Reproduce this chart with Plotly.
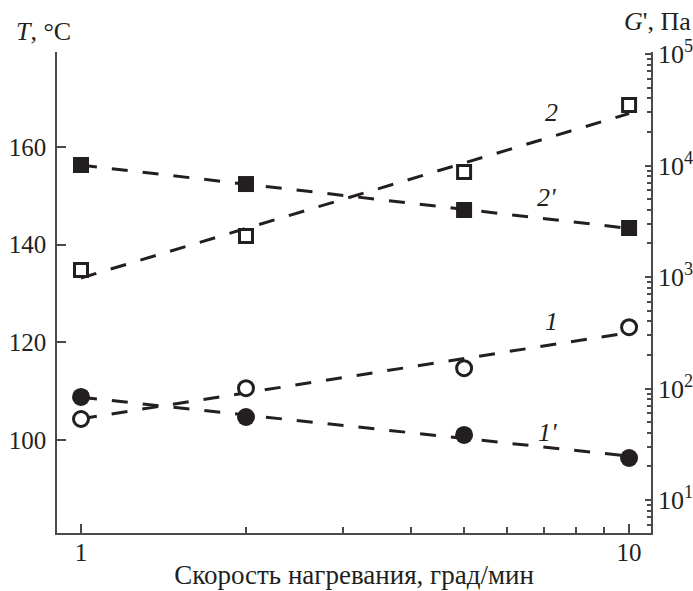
import numpy as np
import plotly.graph_objects as go

# Heating rate, deg/min
rate = [1, 2, 5, 10]

# Temperature, deg C (open symbols, left axis)
t_curve1 = [104.3, 110.6, 114.7, 123.1]
t_curve2 = [134.8, 141.8, 154.9, 168.6]

# Storage modulus G', Pa (filled symbols, right axis)
g_curve1 = [84.0, 55.5, 38.3, 23.8]
g_curve2 = [10100, 6820, 3990, 2750]

# Right-axis decade labels
g_tickvals = [10, 100, 1000, 10000, 100000]
g_ticktext = ["10<sup>1</sup>", "10<sup>2</sup>", "10<sup>3</sup>", "10<sup>4</sup>", "10<sup>5</sup>"]

INK = "#231f20"
AXIS = "#4a4a4a"
FONT = "Liberation Serif"
FS = 25

lx = np.log10(rate)
x_ends = np.array([1.0, 10.0])


def fit_linear(y):
    k, b = np.polyfit(lx, y, 1)
    return k * np.log10(x_ends) + b


def fit_log(y):
    k, b = np.polyfit(lx, np.log10(y), 1)
    return 10 ** (k * np.log10(x_ends) + b)


dash = dict(color=INK, width=3, dash="16px,15px")

fig = go.Figure()

# regression lines
fig.add_trace(go.Scatter(x=x_ends, y=fit_linear(t_curve1), mode="lines", line=dash, yaxis="y"))
fig.add_trace(go.Scatter(x=x_ends, y=fit_linear(t_curve2), mode="lines", line=dash, yaxis="y"))
fig.add_trace(go.Scatter(x=x_ends, y=fit_log(g_curve1), mode="lines", line=dash, yaxis="y2"))
fig.add_trace(go.Scatter(x=x_ends, y=fit_log(g_curve2), mode="lines", line=dash, yaxis="y2"))

# measured points
fig.add_trace(go.Scatter(x=rate, y=t_curve1, mode="markers", yaxis="y",
                         marker=dict(symbol="circle", size=15, color="white",
                                     line=dict(color=INK, width=3))))
fig.add_trace(go.Scatter(x=rate, y=t_curve2, mode="markers", yaxis="y",
                         marker=dict(symbol="square", size=13, color="white",
                                     line=dict(color=INK, width=3))))
fig.add_trace(go.Scatter(x=rate, y=g_curve1, mode="markers", yaxis="y2",
                         marker=dict(symbol="circle", size=18, color=INK,
                                     line=dict(color=INK, width=0))))
fig.add_trace(go.Scatter(x=rate, y=g_curve2, mode="markers", yaxis="y2",
                         marker=dict(symbol="square", size=16, color=INK,
                                     line=dict(color=INK, width=0))))

tickfont = dict(family=FONT, size=FS, color=INK)

fig.update_layout(
    width=693, height=591,
    margin=dict(l=57, r=42, t=52, b=58, autoexpand=False),
    paper_bgcolor="white", plot_bgcolor="white",
    showlegend=False,
    font=dict(family=FONT, size=FS, color=INK),
    xaxis=dict(
        type="log", range=[-0.0438, 1.040], automargin=False,
        tickvals=[1, 10], ticktext=["1", "10"],
        ticks="inside", ticklen=9, tickwidth=1.5, tickcolor=AXIS,
        minor=dict(tickvals=[2, 3, 4, 5, 6, 7, 8, 9], ticks="inside",
                   ticklen=6, tickwidth=1.5, tickcolor=AXIS, showgrid=False),
        showline=True, linecolor=AXIS, linewidth=1.5,
        showgrid=False, zeroline=False, tickfont=tickfont,
        ticklabelstandoff=-4,
        title=dict(text="Скорость нагревания, град/мин",
                   font=dict(family=FONT, size=27, color=INK), standoff=0),
    ),
    yaxis=dict(
        range=[80.95, 179.46], automargin=False,
        tickvals=[100, 120, 140, 160],
        ticks="inside", ticklen=9, tickwidth=1.5, tickcolor=AXIS,
        showline=True, linecolor=AXIS, linewidth=1.5,
        showgrid=False, zeroline=False, tickfont=tickfont,
        ticklabelstandoff=4,
    ),
    yaxis2=dict(
        type="log", range=[0.704, 5.018], overlaying="y", side="right",
        automargin=False,
        tickvals=g_tickvals, ticktext=g_ticktext,
        ticks="inside", ticklen=6, tickwidth=1.5, tickcolor=AXIS,
        minor=dict(tickvals=[m * 10 ** e for e in range(0, 5) for m in range(2, 10)],
                   ticks="inside", ticklen=4, tickwidth=1.5, tickcolor=AXIS,
                   showgrid=False),
        showline=True, linecolor=AXIS, linewidth=1.5,
        showgrid=False, zeroline=False,
        tickfont=dict(family=FONT, size=26, color=INK),
        ticklabelstandoff=0,
    ),
)

# axis captions at the top of each vertical axis
fig.add_annotation(text="<i>T</i>, °C", xref="paper", yref="paper",
                   x=-0.0724, y=1.0416, xanchor="left", yanchor="middle",
                   showarrow=False, font=dict(family=FONT, size=26, color=INK))
fig.add_annotation(text="<i>G</i>', Па", xref="paper", yref="paper",
                   x=0.951, y=1.0624, xanchor="left", yanchor="middle",
                   showarrow=False, font=dict(family=FONT, size=26, color=INK))

# curve numbers
for label, lxp, ty in [("2", 0.859, 167.0), ("2'", 0.850, 149.6),
                       ("1", 0.859, 124.2), ("1'", 0.852, 101.6)]:
    fig.add_annotation(text=f"<i>{label}</i>", x=lxp, y=ty, xref="x", yref="y",
                       showarrow=False, font=dict(family=FONT, size=26, color=INK))

fig.write_html("out.html")
